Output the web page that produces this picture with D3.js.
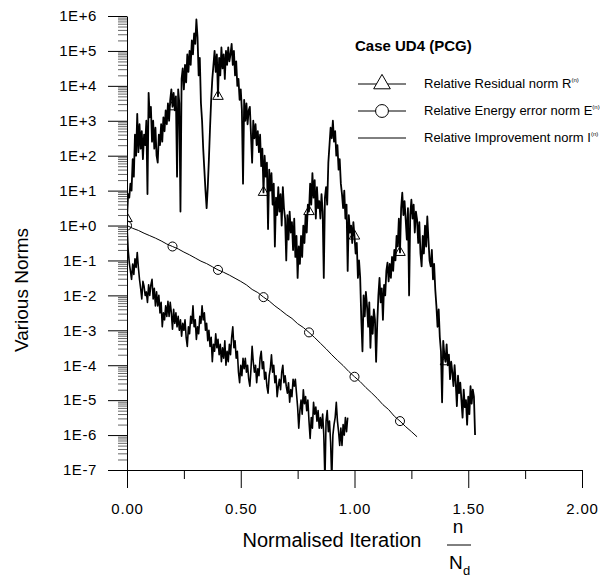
<!DOCTYPE html>
<html>
<head>
<meta charset="utf-8">
<script src="https://cdn.jsdelivr.net/npm/d3@7"></script>
<style>
body { margin: 0; background: #fff; }
text { font-family: 'Liberation Sans', Arial, sans-serif; }
</style>
</head>
<body>
<script>
const width = 600
const height = 579
const margin = { top: 16, right: 18, bottom: 109, left: 127 }

// normalised iteration n/Nd between two stored samples
const step = 0.005
const energyStep = 0.025

// log10 of the relative residual norm, one value per step
const residualLog = [
  0.2, 0.9, 0.8, 1.2, 1.0, 1.9, 1.4, 2.6, 2.0, 3.2,
  2.1, 2.9, 2.2, 2.7, 1.9, 2.6, 2.3, 3.0, 0.9, 3.8,
  3.1, 3.4, 2.4, 3.0, 2.2, 2.8, 2.0, 1.8, 2.6, 2.3,
  2.9, 2.4, 3.1, 2.7, 3.3, 2.9, 3.5, 3.0, 3.6, 3.9,
  3.4, 3.8, 3.3, 3.7, 1.4, 3.9, 3.5, 0.4, 4.2, 4.5,
  3.9, 4.6, 4.1, 4.9, 4.4, 5.0, 4.6, 5.3, 4.9, 5.5,
  5.2, 5.9, 5.4, 4.3, 4.8, 3.5, 3.0, 2.2, 1.6, 1.0,
  0.5, 1.1, 1.9, 2.8, 3.6, 4.2, 4.6, 5.0, 4.4, 4.9,
  3.7, 4.8, 4.3, 5.1, 4.5, 4.9, 4.2, 5.0, 4.6, 5.1,
  4.7, 4.9, 5.2, 4.6, 5.0, 4.3, 4.7, 4.0, 4.2, 3.6,
  3.9, 3.3, 1.2, 3.6, 3.0, 3.5, 2.9, 3.3, 3.4, 2.6,
  1.8, 3.0, 2.5, 2.9, 2.3, 2.7, 2.1, 2.6, 1.7, 2.2,
  0.95, 2.0, 1.4, 1.8, -0.1, 1.6, 1.0, 1.5, 0.6, 1.2,
  -0.6, 0.8, 0.3, 1.1, 0.4, 0.9, 0.0, 1.1, 0.5, 0.2,
  -1.0, 0.3, -0.4, 0.4, -0.2, 0.1, -0.7, 0.2, -0.9, -0.3,
  -1.5, -0.6, -1.1, -0.3, -0.9, 0.0, -0.5, 0.3, -0.2, 0.6,
  0.4, 1.2, 0.6, 1.5, 0.8, 1.3, 0.2, 1.1, 0.5, 0.7,
  0.2, 0.9, 0.4, -1.5, 0.8, 1.1, 0.6, 1.8, 2.3, 2.8,
  2.5, 3.0, 2.4, 2.7, 2.0, 2.3, 1.6, 1.9, 1.2, 0.9,
  0.5, 1.0, 0.2, 0.6, -1.3, 0.3, -0.2, 0.0, -0.5, 0.1,
  -0.3, -0.8, -0.5, -1.5, -1.0, -1.5, -2.7, -3.6, -2.0, -2.6,
  -1.9, -2.3, -2.9, -2.2, -3.5, -2.6, -3.1, -2.4, -2.7, -3.9,
  -2.8, -2.0, -1.5, -2.2, -1.8, -2.7, -1.7, -2.0, -1.3, -1.06,
  -1.6, -1.1, -1.5, -0.9, -1.3, -0.7, -1.0, -0.3, -0.6, 0.2,
  -0.77, 0.5, 0.94, 0.3, 0.7, 0.17, -0.4, 0.5, -2.0, 0.3,
  0.74, 0.2, 0.6, -0.2, 0.4, 0.17, -0.5, 0.1, -0.8, -1.17,
  -0.3, -0.8, 0.0, -0.6, 0.26, -0.4, -1.0, -1.17, -0.7, -1.54,
  -1.1, -1.83, -2.3, -2.9, -2.4, -3.2, -3.6, -5.06, -3.3, -3.7,
  -3.9, -3.4, -4.0, -3.7, -4.4, -3.9, -4.2, -4.6, -4.0, -4.5,
  -5.17, -4.3, -4.8, -4.5, -5.0, -5.5, -4.7, -5.2, -5.0, -5.7,
  -4.9, -5.4, -4.6, -5.1, -4.7, -4.9, -6.0
]

// log10 of the relative improvement norm, one value per step
const improvementLog = [
  0.0, -0.69, -1.06, -1.3, -1.54, -1.1, -1.4, -0.95, -1.2, -0.77,
  -1.2, -1.54, -1.8, -2.1, -1.6, -1.74, -2.0, -1.9, -2.2, -1.7,
  -2.0, -1.7, -1.54, -2.1, -1.8, -2.3, -1.9, -2.3, -2.0, -2.5,
  -2.2, -2.9, -2.5, -2.7, -2.3, -2.6, -2.17, -2.6, -2.2, -2.5,
  -2.97, -2.4, -2.8, -2.5, -2.9, -2.6, -3.0, -2.7, -3.17, -2.8,
  -3.0, -2.7, -3.2, -3.46, -2.9, -3.1, -2.6, -2.8, -2.3, -2.9,
  -2.7, -3.26, -2.9, -3.1, -2.6, -2.8, -2.3, -2.7, -2.5, -3.0,
  -2.8, -3.3, -3.0, -3.46, -3.2, -3.9, -3.4, -3.6, -3.1, -3.5,
  -3.26, -3.7, -3.4, -3.9, -3.5, -3.8, -3.3, -4.0, -3.6, -3.9,
  -3.4, -3.7, -3.2, -2.9, -3.5, -3.3, -3.8, -3.6, -4.2, -4.5,
  -4.0, -4.3, -3.8, -4.1, -3.8, -4.2, -4.0, -4.4, -4.6, -4.1,
  -3.46, -3.9, -4.2, -4.0, -4.5, -4.1, -4.3, -3.8, -3.6, -4.1,
  -3.9, -4.4, -4.2, -4.6, -4.8, -4.3, -4.1, -3.7, -4.2, -4.0,
  -4.5, -4.3, -4.9, -4.6, -4.4, -4.7, -4.2, -4.0, -4.5, -4.3,
  -4.6, -4.8, -4.5, -5.06, -4.7, -4.9, -4.4, -4.6, -4.4, -4.8,
  -5.2, -5.8, -5.3, -5.0, -5.4, -4.7, -5.1, -4.9, -5.3, -5.0,
  -5.6, -6.1, -5.5, -5.8, -5.06, -5.4, -5.2, -5.6, -5.3, -5.8,
  -5.5, -5.8, -5.4, -6.0, -7.3, -5.6, -5.3, -5.9, -5.6, -6.2,
  -7.3, -6.0, -5.7, -5.5, -5.06, -5.6, -5.9, -6.3, -5.8, -6.3,
  -5.7, -6.0, -5.5, -5.9, -5.5
]

// log10 of the relative energy error norm, one value per energyStep
const energyLog = [
  0.0, -0.08, -0.14, -0.22, -0.29, -0.36, -0.44, -0.53, -0.60, -0.67,
  -0.76, -0.84, -0.93, -1.02, -1.09, -1.18, -1.27, -1.34, -1.42, -1.51,
  -1.60, -1.70, -1.83, -1.92, -2.05, -2.16, -2.30, -2.42, -2.55, -2.66,
  -2.81, -2.92, -3.06, -3.21, -3.37, -3.53, -3.70, -3.86, -4.01, -4.18,
  -4.33, -4.47, -4.64, -4.79, -4.95, -5.13, -5.27, -5.46, -5.60, -5.76,
  -5.90, -6.05
]

const markerEvery = 0.2
const xTicks = [0, 0.5, 1, 1.5, 2]
const xMinorTicks = [0.25, 0.75, 1.25, 1.75]
const yTickLabels = ['1E-7', '1E-6', '1E-5', '1E-4', '1E-3', '1E-2', '1E-1',
  '1E+0', '1E+1', '1E+2', '1E+3', '1E+4', '1E+5', '1E+6']

const legendTitle = 'Case UD4 (PCG)'
const series = [
  { name: 'Relative Residual norm R', sup: '(n)', marker: 'triangle' },
  { name: 'Relative Energy error norm E', sup: '(n)', marker: 'circle' },
  { name: 'Relative Improvement norm I', sup: '(n)', marker: 'none' }
]

const toPoints = (logs, dx) => logs.map((e, i) => ({ n: i * dx, v: Math.pow(10, e) }))
const residual = toPoints(residualLog, step)
const improvement = toPoints(improvementLog, step)
const energy = toPoints(energyLog, energyStep)

const x = d3.scaleLinear()
  .domain([0, 2])
  .range([margin.left, width - margin.right])

const y = d3.scaleLog()
  .domain([1e-7, 1e6])
  .range([height - margin.bottom, margin.top])

const yMajor = yTickLabels.map((t, i) => Math.pow(10, i - 7))
const yMinor = []
yMajor.slice(0, -1).forEach((d) => {
  for (let m = 2; m <= 9; m++) yMinor.push(d * m)
})

const svg = d3.select('body')
  .append('svg')
    .attr('width', width)
    .attr('height', height)

svg.append('clipPath')
    .attr('id', 'plot-clip')
  .append('rect')
    .attr('x', margin.left)
    .attr('y', 0)
    .attr('width', width - margin.left - margin.right)
    .attr('height', height - margin.bottom)

// axes

const axisFont = 15

svg.append('g')
  .attr('transform', 'translate(' + margin.left + ',0)')
  .call(d3.axisLeft(y).tickValues(yMinor).tickSize(9).tickSizeOuter(0).tickFormat(''))
  .call((g) => g.selectAll('line').attr('stroke', '#666'))
  .call((g) => g.select('.domain').remove())

svg.append('g')
  .attr('transform', 'translate(' + margin.left + ',0)')
  .call(d3.axisLeft(y).tickValues(yMajor).tickSize(19).tickSizeOuter(0).tickPadding(11)
    .tickFormat((d, i) => yTickLabels[i]))
  .call((g) => g.selectAll('text')
    .attr('font-size', axisFont)
    .attr('letter-spacing', 0.6)
    .attr('fill', '#000'))

svg.append('g')
  .attr('transform', 'translate(0,' + (height - margin.bottom) + ')')
  .call(d3.axisBottom(x).tickValues(xMinorTicks).tickSize(9).tickSizeOuter(0).tickFormat(''))
  .call((g) => g.select('.domain').remove())

svg.append('g')
  .attr('transform', 'translate(0,' + (height - margin.bottom) + ')')
  .call(d3.axisBottom(x).tickValues(xTicks).tickSize(18).tickSizeOuter(0).tickPadding(15)
    .tickFormat(d3.format('.2f')))
  .call((g) => g.selectAll('text')
    .attr('font-size', axisFont)
    .attr('letter-spacing', 0.8)
    .attr('fill', '#000'))

svg.selectAll('g').attr('font-family', null)

// axis titles

svg.append('text')
  .attr('transform', 'translate(28,' + 290 + ')rotate(-90)')
  .attr('text-anchor', 'middle')
  .attr('font-size', 19)
  .text('Various Norms')

svg.append('text')
  .attr('x', 332)
  .attr('y', 547)
  .attr('text-anchor', 'middle')
  .attr('font-size', 20)
  .text('Normalised Iteration')

const frac = svg.append('g')
  .attr('font-size', 19)
frac.append('text')
  .attr('x', 458)
  .attr('y', 533)
  .attr('text-anchor', 'middle')
  .text('n')
frac.append('line')
  .attr('x1', 447).attr('x2', 471)
  .attr('y1', 545).attr('y2', 545)
  .attr('stroke', '#000')
frac.append('text')
  .attr('x', 449)
  .attr('y', 569)
  .text('N')
frac.append('text')
  .attr('x', 463)
  .attr('y', 575)
  .attr('font-size', 13)
  .text('d')

// curves

const line = d3.line()
  .x((d) => x(d.n))
  .y((d) => y(d.v))

const curves = svg.append('g')
  .attr('clip-path', 'url(#plot-clip)')
  .attr('fill', 'none')
  .attr('stroke', '#000')

curves.append('path')
  .attr('d', line(residual))
  .attr('stroke-width', 1.8)
  .attr('stroke-linejoin', 'round')

curves.append('path')
  .attr('d', line(improvement))
  .attr('stroke-width', 1.6)
  .attr('stroke-linejoin', 'round')

curves.append('path')
  .attr('d', line(energy))
  .attr('stroke-width', 1)

const every = (pts, dx) => pts.filter((d, i) => i % Math.round(markerEvery / dx) === 0)

const triangle = d3.symbol().type(d3.symbolTriangle)
const circle = d3.symbol().type(d3.symbolCircle)

curves.selectAll('.tri')
  .data(every(residual, step))
  .join('path')
    .attr('transform', (d) => 'translate(' + x(d.n) + ',' + y(d.v) + ')')
    .attr('d', triangle.size(48)())
    .attr('stroke-width', 1)

curves.selectAll('.circ')
  .data(every(energy, energyStep))
  .join('path')
    .attr('transform', (d) => 'translate(' + x(d.n) + ',' + y(d.v) + ')')
    .attr('d', circle.size(64)())
    .attr('stroke-width', 1)

// legend

const legend = svg.append('g')

legend.append('text')
  .attr('x', 355)
  .attr('y', 51)
  .attr('font-size', 15)
  .attr('font-weight', 'bold')
  .text(legendTitle)

const rows = legend.selectAll('.row')
  .data(series)
  .join('g')
    .attr('transform', (d, i) => 'translate(0,' + (84 + i * 27) + ')')

rows.append('line')
  .attr('x1', 358).attr('x2', 406)
  .attr('stroke', '#000')

rows.filter((d) => d.marker !== 'none')
  .append('path')
    .attr('transform', 'translate(382,0)')
    .attr('d', (d) => d.marker === 'triangle' ? triangle.size(120)() : circle.size(130)())
    .attr('fill', '#fff')
    .attr('stroke', '#000')

const labels = rows.append('text')
  .attr('x', 424)
  .attr('y', 4)
  .attr('font-size', 13)

labels.append('tspan').text((d) => d.name)
labels.append('tspan')
  .attr('font-size', 6)
  .attr('dy', -6)
  .text((d) => d.sup)
</script>
</body>
</html>
